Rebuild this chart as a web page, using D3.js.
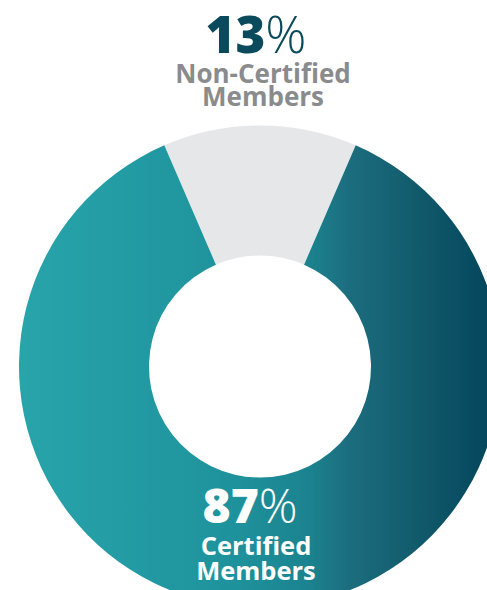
<!DOCTYPE html>
<html><head><meta charset="utf-8">
<script src="https://cdn.jsdelivr.net/npm/d3@7"></script>
<style>html,body{margin:0;padding:0;background:#fff;overflow:hidden}svg{display:block}</style>
</head><body>
<script>
const categories = ["Non-Certified Members", "Certified Members"];
const values = [13, 87];
const labelLines = [["Non-Certified", "Members"], ["Certified", "Members"]];

const W = 487, H = 590;
const cx = 260, cy = 366.5, rOuter = 241, rInner = 111;

const svg = d3.select("body").append("svg").attr("width", W).attr("height", H);
const defs = svg.append("defs");
const grad = defs.append("linearGradient").attr("id", "tealGrad")
  .attr("gradientUnits", "userSpaceOnUse")
  .attr("x1", -rOuter).attr("x2", rOuter).attr("y1", 0).attr("y2", 0);
[[0, "#28a4ab"], [0.45, "#1e929c"], [0.6, "#1b838f"], [0.68, "#1c6e7f"], [0.85, "#0f5769"], [1, "#03435a"]]
  .forEach(([o, c]) => grad.append("stop").attr("offset", o).attr("stop-color", c));

const total = d3.sum(values);
const half = values[0] / total * Math.PI;
const pie = d3.pie().sort(null).startAngle(-half).endAngle(2 * Math.PI - half);
const arc = d3.arc().innerRadius(rInner).outerRadius(rOuter);
const fills = ["#e6e7e8", "url(#tealGrad)"];

const g = svg.append("g").attr("transform", `translate(${cx},${cy})`);
g.selectAll("path").data(pie(values)).join("path")
  .attr("d", arc)
  .attr("fill", (d, i) => fills[i]);

const font = "'Open Sans', sans-serif";
function label(x, xLines, yPct, pctColor, lineColor, pctSize, lineSize, v, lines, lineGap) {
  const t = svg.append("text").attr("x", x).attr("y", yPct)
    .attr("text-anchor", "middle").attr("font-family", font)
    .attr("font-size", pctSize).attr("fill", pctColor);
  t.append("tspan").attr("font-weight", 800).text(v);
  t.append("tspan").attr("font-weight", 300).text("%");
  lines.forEach((ln, i) => {
    svg.append("text").attr("x", xLines).attr("y", yPct + lineGap[0] + i * lineGap[1])
      .attr("text-anchor", "middle").attr("font-family", font)
      .attr("font-weight", 700).attr("font-size", lineSize).attr("fill", lineColor)
      .text(ln);
  });
}
label(256, 263, 53, "#0b4a5c", "#8a8b8d", 51, 26, values[0], labelLines[0], [30, 23]);
label(250, 256, 523, "#ffffff", "#ffffff", 48, 25.5, values[1], labelLines[1], [32, 25]);
</script>
</body></html>
